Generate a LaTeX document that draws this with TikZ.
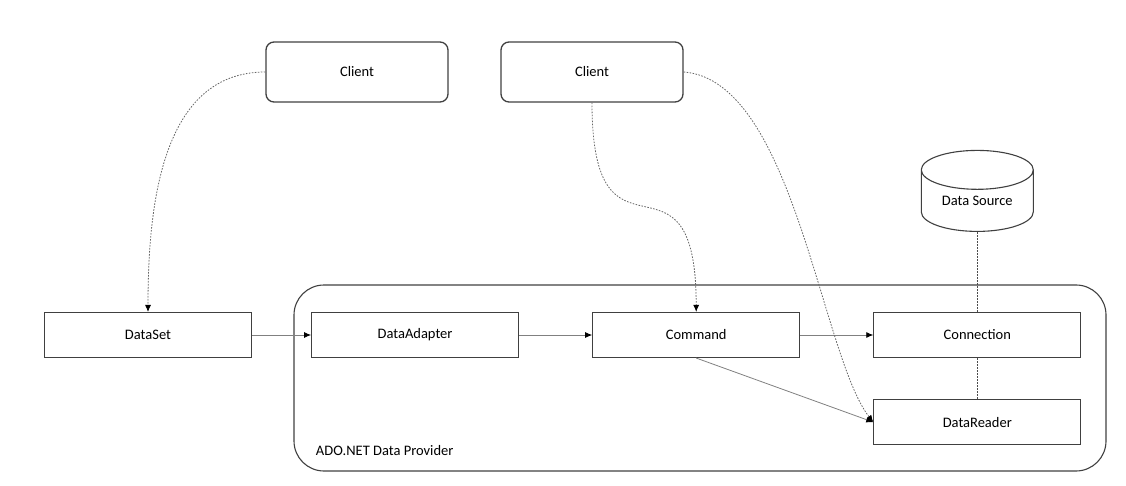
\documentclass[tikz,border=0pt]{standalone}
\usepackage{fontspec}
\setmainfont{Carlito}
\usepackage{tikz}
\usetikzlibrary{arrows.meta,shapes.geometric}

\begin{document}
\begin{tikzpicture}[
  x=1pt,y=-1pt,
  font=\fontsize{14.5}{17}\selectfont,
  every matrix/.style={ampersand replacement=\&,column sep=59pt,row sep=41pt},
  block/.style={draw=black!75,line width=1.1pt,minimum width=207pt,minimum height=45pt,inner sep=0pt},
  client/.style={block,rounded corners=8pt,minimum width=182pt,minimum height=60pt,line width=1.3pt},
  store/.style={draw=black!75,line width=1.1pt,shape=cylinder,shape border rotate=90,aspect=0.55,
    minimum width=112pt,minimum height=81pt,inner sep=0pt},
  provider/.style={draw=black!75,line width=1.1pt,rounded corners=30pt,minimum width=812pt,minimum height=186pt},
  link/.style={-{Latex[length=7pt,width=6pt,black]},draw=black!50,line width=0.8pt},
  dotlink/.style={link,draw=black!60,dash pattern=on 1.6pt off 1.4pt},
  dotline/.style={draw=black!70,line width=0.8pt,dash pattern=on 1.6pt off 1.4pt}]

  \useasboundingbox (0,0) rectangle (1126,486);

  % The provider frame behind the boxes
  \node[provider] (adonet) at (700,378) {};
  \node[anchor=base west,xshift=19pt,yshift=16pt] (adolbl) at (adonet.south west) {ADO.NET Data Provider};

  % Position the boxes using a matrix layout
  \matrix[matrix anchor=dset.center] at (148,335) {
    \& \&[14pt] \&[14pt] \node[store] (dsrc) {Data Source}; \\[39pt]
    \node[block] (dset) {DataSet};
      \& \node[block] (dadapt) {DataAdapter};
      \&[14pt] \node[block] (cmd) {Command};
      \&[14pt] \node[block] (conn) {Connection}; \\
    \& \&[14pt] \&[14pt] \node[block] (dreader) {DataReader}; \\
  };

  \node[client] (cli1) at (357,72) {Client};
  \node[client] (cli2) at (592,72) {Client};

  % Draw the connectors between the nodes
  \draw[link] (dset) -- (dadapt);
  \draw[link] (dadapt) -- (cmd);
  \draw[link] (cmd) -- (conn);
  \draw[link] (cmd.south) -- (dreader.west);
  \draw[dotline] (dsrc) -- (conn);
  \draw[dotline] (conn) -- (dreader);
  \draw[dotlink] (cli1.west) to[out=180,in=90] (dset.north);
  \draw[dotlink] (cli2.south) to[out=-90,in=90,looseness=2] (cmd.north);
  \draw[dotlink] (cli2.east) .. controls +(110,8) and +(-52,-66) .. (dreader.west);
\end{tikzpicture}
\end{document}
